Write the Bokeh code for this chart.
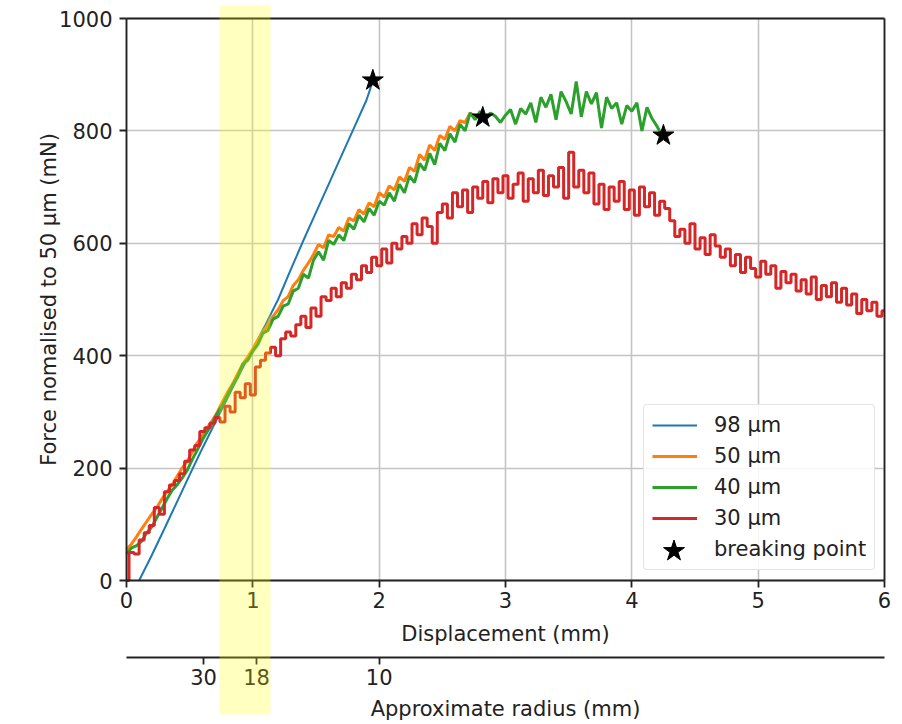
import numpy as np
from bokeh.plotting import figure
from bokeh.models import (LinearAxis, FixedTicker, BoxAnnotation, Legend,
                          LegendItem, Range1d, Grid, Label)
from bokeh.embed import file_html
from bokeh.resources import INLINE

# ---------------- data ----------------
x_ticks = [0, 1, 2, 3, 4, 5, 6]
y_ticks = [0, 200, 400, 600, 800, 1000]

radius_tick_pos = [0.61, 1.03, 2.0]      # displacement where radius is marked
radius_labels = ["30", "18", "10"]

band_left, band_right = 0.736, 1.14       # highlighted displacement interval

step = 0.04                               # sampling interval of the noisy traces (mm)

blue_x = [0.1, 0.2, 0.3, 0.4, 0.5, 0.6, 0.7, 0.8, 0.9, 1.0, 1.1, 1.2, 1.3,
          1.4, 1.5, 1.6, 1.7, 1.8, 1.9, 1.94]
blue_y = [0, 45, 92, 140, 188, 235, 280, 325, 370, 412, 455, 500, 553,
          605, 655, 705, 755, 805, 855, 882]

orange_y = [55, 65, 78, 92, 105, 118, 130, 145, 158, 170, 185, 200, 212, 228,
            245, 258, 272, 285, 300, 318, 335, 350, 368, 385, 398, 412, 428,
            442, 455, 470, 482, 498, 505, 525, 535, 552, 565, 580, 598, 592,
            615, 612, 628, 622, 645, 640, 660, 652, 672, 665, 690, 682, 702,
            695, 718, 710, 735, 728, 758, 748, 775, 765, 792, 785, 808, 800,
            818, 815, 832, 825, 828]

green_y = [48, 58, 62, 70, 85, 95, 112, 128, 145, 160, 170, 182, 196, 215,
           232, 250, 265, 280, 298, 312, 330, 348, 362, 385, 392, 408, 420,
           440, 445, 465, 470, 488, 492, 515, 520, 545, 538, 570, 585, 570,
           605, 598, 615, 605, 635, 625, 650, 638, 662, 650, 675, 668, 690,
           675, 705, 690, 720, 708, 742, 730, 760, 740, 778, 765, 795, 780,
           812, 800, 832, 820, 835, 818, 832, 826, 815, 828, 838, 812, 840,
           830, 850, 815, 860, 842, 865, 820, 870, 852, 830, 888, 825, 870,
           848, 868, 805, 860, 840, 850, 812, 845, 835, 850, 800, 842, 822,
           808, 792]

red_y = [0, 50, 47, 72, 85, 98, 130, 118, 158, 170, 178, 190, 212, 232, 240,
         265, 272, 280, 290, 282, 310, 300, 335, 325, 350, 330, 380, 392, 405,
         415, 400, 430, 442, 435, 455, 470, 450, 485, 470, 505, 498, 520, 505,
         530, 520, 545, 535, 560, 548, 575, 560, 590, 565, 600, 590, 612, 600,
         635, 615, 645, 630, 600, 655, 670, 645, 690, 665, 695, 655, 700, 680,
         710, 672, 715, 690, 720, 680, 705, 725, 675, 715, 690, 730, 685, 720,
         700, 735, 680, 762, 700, 730, 690, 725, 670, 705, 660, 700, 675, 710,
         660, 695, 650, 700, 665, 690, 650, 675, 662, 640, 612, 625, 600, 635,
         590, 610, 580, 615, 595, 575, 590, 560, 580, 548, 575, 555, 540, 568,
         545, 560, 520, 550, 530, 545, 515, 535, 510, 540, 500, 525, 505, 530,
         495, 520, 490, 510, 475, 500, 480, 495, 470, 480]

break_x = [1.95, 2.82, 4.25]
break_y = [890, 824, 792]

series_labels = ["98 µm", "50 µm", "40 µm", "30 µm"]
break_label = "breaking point"
series_colors = ["#1f77b4", "#ff7f0e", "#2ca02c", "#d62728"]

x_label = "Displacement (mm)"
y_label = "Force nomalised to 50 µm (mN)"
radius_label = "Approximate radius (mm)"

orange_x = np.arange(len(orange_y)) * step
green_x = np.arange(len(green_y)) * step
red_x = np.arange(len(red_y)) * step

# ---------------- layout (pixels on the page) ----------------
W, H = 902, 724
AX_LEFT, AX_RIGHT = 126, 884        # data area left/right edge
AX_TOP, AX_BOTTOM = 18, 580         # data area top/bottom edge
BAND_TOP, BAND_BOTTOM = 5, 714      # highlight band reaches beyond the axes
RADIUS_AXIS_PX = 657                # secondary axis line
XLABEL_BASE, RLABEL_BASE = 633, 708.5
YLABEL_BASE_X = 48

X0, X1 = x_ticks[0], x_ticks[-1]
Y0, Y1 = y_ticks[0], y_ticks[-1]
ppx = (AX_RIGHT - AX_LEFT) / (X1 - X0)
ppy = (AX_BOTTOM - AX_TOP) / (Y1 - Y0)

def px_x(px):
    return X0 + (px - AX_LEFT) / ppx

def px_y(py):
    return Y0 + (AX_BOTTOM - py) / ppy

FONT = "DejaVu Sans"
FS = "21px"
TXT = "#222222"
SPINE = "#222222"
GRID = "#c4c4c4"

p = figure(width=W, height=H, output_backend="svg", toolbar_location=None,
           x_range=Range1d(px_x(0), px_x(W)), y_range=Range1d(px_y(H), px_y(0)),
           min_border=0)
p.background_fill_color = "white"
p.border_fill_color = "white"
p.outline_line_color = None

def style_axis(ax):
    ax.axis_line_color = SPINE
    ax.axis_line_width = 1.8
    ax.major_tick_line_color = SPINE
    ax.major_tick_line_width = 1.8
    ax.major_tick_out = 7
    ax.major_tick_in = 0
    ax.minor_tick_line_color = None
    ax.major_label_text_font = FONT
    ax.major_label_text_font_size = FS
    ax.major_label_text_color = TXT

def spine(ax):
    ax.ticker = FixedTicker(ticks=[])
    ax.axis_line_color = SPINE
    ax.axis_line_width = 1.8
    ax.major_tick_line_color = None
    ax.minor_tick_line_color = None
    ax.major_tick_out = 0
    ax.major_tick_in = 0
    ax.minor_tick_out = 0
    ax.major_label_text_font_size = "0px"

xa = p.xaxis[0]
style_axis(xa)
xa.ticker = FixedTicker(ticks=x_ticks)
xa.fixed_location = Y0
xa.bounds = (X0, X1)
xa.major_label_standoff = 4

ya = p.yaxis[0]
style_axis(ya)
ya.ticker = FixedTicker(ticks=y_ticks)
ya.fixed_location = X0
ya.bounds = (Y0, Y1)
ya.major_label_standoff = 7

rsp = LinearAxis(fixed_location=X1, bounds=(Y0, Y1))
spine(rsp)
p.add_layout(rsp, "right")
tsp = LinearAxis(fixed_location=Y1, bounds=(X0, X1))
spine(tsp)
p.add_layout(tsp, "above")

rad = LinearAxis(ticker=FixedTicker(ticks=radius_tick_pos),
                 major_label_overrides=dict(zip(radius_tick_pos, radius_labels)),
                 fixed_location=px_y(RADIUS_AXIS_PX), bounds=(X0, X1))
style_axis(rad)
rad.major_label_standoff = 4
p.add_layout(rad, "below")

# axis titles
def title_label(**kw):
    return Label(text_font=FONT, text_font_size=FS, text_color=TXT,
                 text_align="center", text_baseline="alphabetic", **kw)

p.add_layout(title_label(x=(X0 + X1) / 2, y=px_y(XLABEL_BASE), text=x_label))
p.add_layout(title_label(x=(X0 + X1) / 2, y=px_y(RLABEL_BASE), text=radius_label))
p.add_layout(title_label(x=px_x(YLABEL_BASE_X), y=(Y0 + Y1) / 2, text=y_label,
                         angle=np.pi / 2))

# grids
for g in p.grid:
    g.grid_line_color = GRID
    g.grid_line_width = 1.6
if "cross_bounds" in Grid.properties():
    p.xgrid[0].cross_bounds = (Y0, Y1)
    p.ygrid[0].cross_bounds = (X0, X1)

# data
r_blue = p.line(blue_x, blue_y, line_color=series_colors[0], line_width=2)
r_orange = p.line(orange_x, orange_y, line_color=series_colors[1], line_width=3)
r_green = p.line(green_x, green_y, line_color=series_colors[2], line_width=3)
r_red = p.step(red_x, red_y, mode="center", line_color=series_colors[3], line_width=3)
r_star = p.scatter(break_x, break_y, marker="star", size=22,
                   fill_color="black", line_color="black")

band = BoxAnnotation(left=band_left, right=band_right,
                     top=px_y(BAND_TOP), bottom=px_y(BAND_BOTTOM),
                     fill_color="yellow", fill_alpha=0.25, line_color=None,
                     level="overlay")
p.add_layout(band)

# legend
LEG_LEFT, LEG_BOTTOM = 643, 570
PAD, GH, SP = 8, 24, 7
legend = Legend(items=[LegendItem(label=series_labels[0], renderers=[r_blue]),
                       LegendItem(label=series_labels[1], renderers=[r_orange]),
                       LegendItem(label=series_labels[2], renderers=[r_green]),
                       LegendItem(label=series_labels[3], renderers=[r_red]),
                       LegendItem(label=break_label, renderers=[r_star])],
                location=(LEG_LEFT, H - LEG_BOTTOM))
legend.label_text_font = FONT
legend.label_text_font_size = FS
legend.label_text_color = TXT
legend.glyph_width = 45
legend.glyph_height = GH
legend.label_height = GH
legend.spacing = SP
legend.padding = PAD
legend.label_standoff = 17
legend.margin = 0
legend.border_line_color = "#cccccc"
legend.border_line_width = 1.2
legend.background_fill_alpha = 0.85
if "border_radius" in Legend.properties():
    legend.border_radius = 4
p.add_layout(legend)

# larger star symbol for the legend's last entry (drawn on top of the small one)
SG = 55
row_cx = LEG_LEFT + PAD + 45 / 2
leg_h = 5 * GH + 4 * SP + 2 * PAD
row_cy = LEG_BOTTOM - leg_h + PAD + 4 * (GH + SP) + GH / 2
star_leg = Legend(items=[LegendItem(label=" ", renderers=[r_star])],
                  location=(row_cx - SG / 2, H - (row_cy + SG / 2)))
star_leg.glyph_width = SG
star_leg.glyph_height = SG
star_leg.padding = 0
star_leg.margin = 0
star_leg.spacing = 0
star_leg.label_standoff = 0
star_leg.label_text_font_size = "1px"
star_leg.border_line_color = None
star_leg.background_fill_alpha = 0
p.add_layout(star_leg)

open("out.html", "w").write(file_html(p, INLINE))
